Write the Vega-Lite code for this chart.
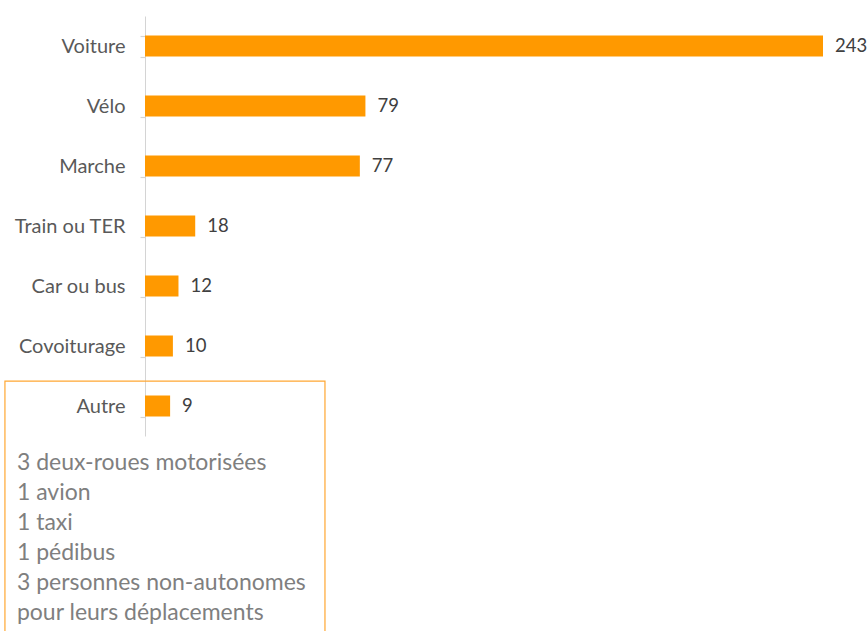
{
  "$schema": "https://vega.github.io/schema/vega-lite/v6.json",
  "width": 678,
  "height": 420,
  "autosize": {"type": "none"},
  "padding": {"left": 145, "top": 16, "right": 45, "bottom": 195},
  "background": "white",
  "config": {"view": {"stroke": null}, "font": "Lato"},
  "resolve": {"scale": {"y": "independent", "x": "independent"}},
  "layer": [
    {
      "data": {
        "values": [
          {"mode": "Voiture", "count": 243},
          {"mode": "Vélo", "count": 79},
          {"mode": "Marche", "count": 77},
          {"mode": "Train ou TER", "count": 18},
          {"mode": "Car ou bus", "count": 12},
          {"mode": "Covoiturage", "count": 10},
          {"mode": "Autre", "count": 9}
        ]
      },
      "encoding": {
        "y": {
          "field": "mode",
          "type": "nominal",
          "sort": null,
          "scale": {"paddingInner": 0.65, "paddingOuter": 0.325},
          "axis": {
            "title": null,
            "domainColor": "#d4d4d4",
            "tickColor": "#d4d4d4",
            "ticks": true,
            "tickSize": 5,
            "tickWidth": 1.2,
            "tickBand": "extent",
            "labelFontSize": 20,
            "labelColor": "#595959",
            "labelPadding": 15,
            "labelFont": "Lato"
          }
        },
        "x": {
          "field": "count",
          "type": "quantitative",
          "scale": {"domain": [0, 243], "nice": false},
          "axis": null
        }
      },
      "layer": [
        {"mark": {"type": "bar", "color": "#FF9900"}},
        {
          "mark": {"type": "text", "align": "left", "baseline": "middle", "dx": 12, "fontSize": 18.5, "color": "#404040"},
          "encoding": {"text": {"field": "count", "type": "quantitative"}}
        }
      ]
    },
    {
      "layer": [
        {
          "data": {"values": [{"x1": -50.2, "x2": 64.5, "y1": 12.17, "y2": 21.5}]},
          "mark": {"type": "rect", "fill": null, "fillOpacity": 0, "stroke": "#FFA733", "strokeWidth": 1.2},
          "encoding": {
            "x": {"field": "x1", "type": "quantitative", "scale": {"domain": [0, 243], "nice": false}, "axis": null},
            "x2": {"field": "x2"},
            "y": {"field": "y1", "type": "quantitative", "scale": {"domain": [0, 14], "reverse": true, "nice": false, "zero": false}, "axis": null},
            "y2": {"field": "y2"}
          }
        },
        {
          "data": {
            "values": [
              {"line": "3 deux-roues motorisées", "x": -45.9, "pos": 14.9},
              {"line": "1 avion", "x": -45.9, "pos": 15.9},
              {"line": "1 taxi", "x": -45.9, "pos": 16.9},
              {"line": "1 pédibus", "x": -45.9, "pos": 17.9},
              {"line": "3 personnes non-autonomes", "x": -45.9, "pos": 18.9},
              {"line": "pour leurs déplacements", "x": -45.9, "pos": 19.9}
            ]
          },
          "mark": {"type": "text", "align": "left", "baseline": "middle", "fontSize": 23, "color": "#7f7f7f"},
          "encoding": {
            "x": {"field": "x", "type": "quantitative", "scale": {"domain": [0, 243], "nice": false}, "axis": null},
            "y": {"field": "pos", "type": "quantitative", "scale": {"domain": [0, 14], "reverse": true, "nice": false, "zero": false}, "axis": null},
            "text": {"field": "line", "type": "nominal"}
          }
        }
      ]
    }
  ]
}
